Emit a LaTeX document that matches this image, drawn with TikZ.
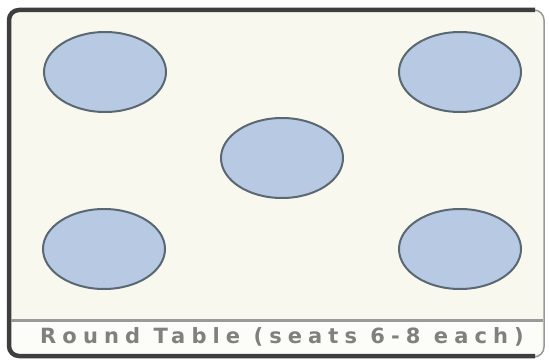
\documentclass[tikz,border=0pt]{standalone}
\usepackage{fontspec}
\usetikzlibrary{shapes.geometric}
\newfontfamily\labelfont[LetterSpace=29]{DejaVu Sans Bold}
\definecolor{cream}{HTML}{F8F8EE}
\definecolor{seatfill}{HTML}{B8C9E3}
\definecolor{seatline}{HTML}{5A6872}
\definecolor{framedark}{HTML}{3E3E3E}
\definecolor{labelgray}{HTML}{80807C}
\definecolor{divider}{HTML}{9A9A9A}
\begin{document}
\begin{tikzpicture}[x=1pt,y=-1pt,
  roundtable/.style={ellipse, draw=seatline, fill=seatfill, line width=2pt, minimum width=122pt, minimum height=80pt, inner sep=0pt}]
\useasboundingbox (0,0) rectangle (549,361);
\fill[white] (0,0) rectangle (549,361);
\fill[cream, rounded corners=10pt] (8,10) rectangle (544,357);
\fill[white!60!cream] (11,322) rectangle (541,354);
\draw[gray!80, line width=1.5pt, rounded corners=10pt] (530,10) -- (544,10) -- (544,357) -- (530,357);
\draw[framedark, line width=4.5pt, rounded corners=10pt] (535,10) -- (9,10) -- (9,356) -- (535,356);
\draw[divider, line width=3pt] (11,320) -- (543,320);
\node[roundtable] (t1) at (105,72) {};
\node[roundtable] (t2) at (460,72) {};
\node[roundtable] (t3) at (282,158) {};
\node[roundtable] (t4) at (104,249) {};
\node[roundtable] (t5) at (460,249) {};
\node[text=labelgray, font=\labelfont\fontsize{21}{24}\selectfont, inner sep=0pt] (lbl) at (282,337) {Round Table (seats 6-8 each)};
\end{tikzpicture}
\end{document}
